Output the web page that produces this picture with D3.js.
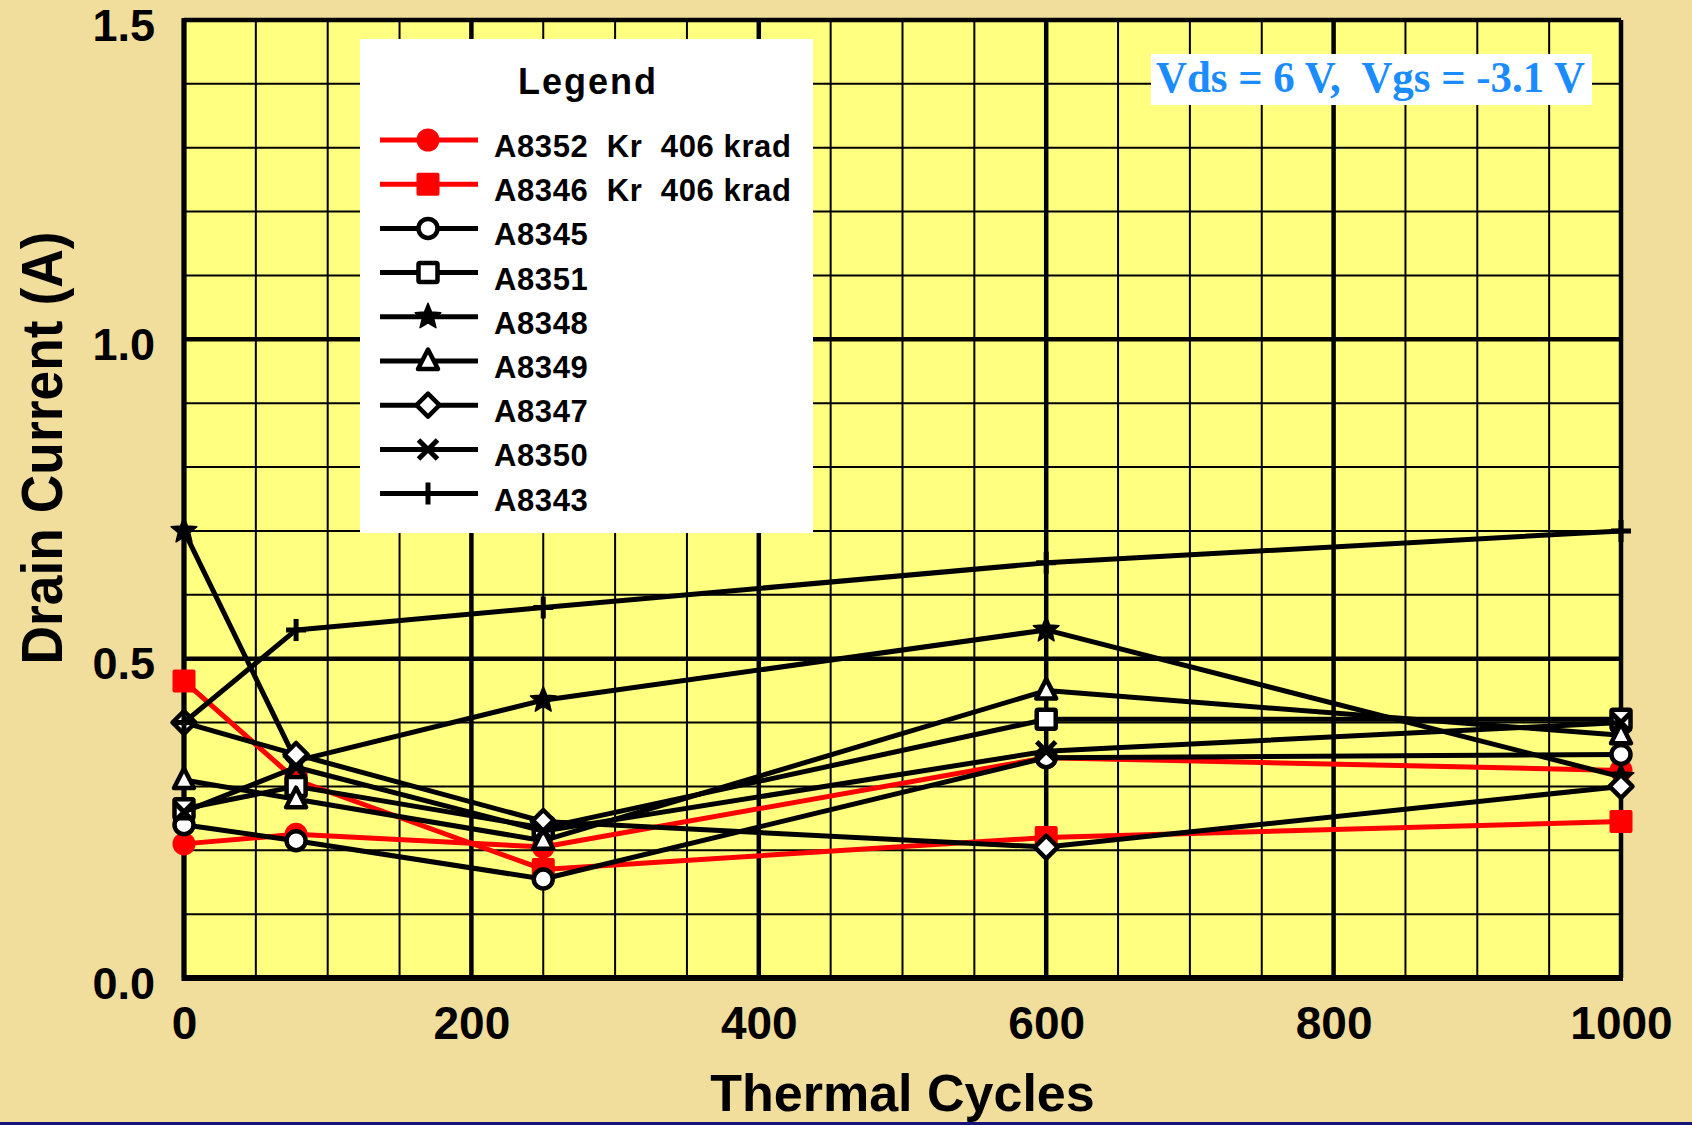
<!DOCTYPE html>
<html>
<head>
<meta charset="utf-8">
<script src="https://cdn.jsdelivr.net/npm/d3@7"></script>
<style>
  html, body { margin: 0; padding: 0; background: #F1DD9C; }
  svg { display: block; }
</style>
</head>
<body>
<svg id="chart" width="1692" height="1125"></svg>
<script>
// Drain current vs. thermal cycles for nine parts
const cycles = [0, 78, 250, 600, 1000];

const seriesNames = ["A8352  Kr  406 krad", "A8346  Kr  406 krad", "A8345", "A8351",
                     "A8348", "A8349", "A8347", "A8350", "A8343"];
const seriesColors = ["#FF0000", "#FF0000", "#000000", "#000000",
                      "#000000", "#000000", "#000000", "#000000", "#000000"];
const seriesMarkers = ["dot", "block", "circle", "square", "star", "triangle", "diamond", "cross", "plus"];

const a8352 = [0.21, 0.225, 0.205, 0.345, 0.325];
const a8346 = [0.465, 0.31, 0.17, 0.22, 0.245];
const a8345 = [0.24, 0.215, 0.155, 0.345, 0.35];
const a8351 = [0.265, 0.30, 0.235, 0.405, 0.405];
const a8348 = [0.70, 0.34, 0.435, 0.545, 0.315];
const a8349 = [0.31, 0.28, 0.215, 0.45, 0.38];
const a8347 = [0.40, 0.35, 0.245, 0.205, 0.30];
const a8350 = [0.26, 0.33, 0.23, 0.355, 0.40];
const a8343 = [0.40, 0.545, 0.58, 0.65, 0.70];
const seriesValues = [a8352, a8346, a8345, a8351, a8348, a8349, a8347, a8350, a8343];

const xTicks = [0, 200, 400, 600, 800, 1000];
const xTickLabels = ["0", "200", "400", "600", "800", "1000"];
const yTicks = [0.0, 0.5, 1.0, 1.5];
const yTickLabels = ["0.0", "0.5", "1.0", "1.5"];

const xTitle = "Thermal Cycles";
const yTitle = "Drain Current (A)";
const legendTitle = "Legend";
const biasNote = "Vds = 6 V,  Vgs = -3.1 V";

// ---- layout ----
const W = 1692, H = 1125;
const plot = { left: 184, top: 20, right: 1621, bottom: 978 };
const SANS = "'Liberation Sans', Arial, Helvetica, sans-serif";
const SERIF = "'Liberation Serif', 'Times New Roman', serif";

const svg = d3.select("#chart");

const x = d3.scaleLinear().domain([0, 1000]).range([plot.left, plot.right]);
const y = d3.scaleLinear().domain([0, 1.5]).range([plot.bottom, plot.top]);

// page background and bottom rule
svg.append("rect").attr("width", W).attr("height", H).attr("fill", "#F1DD9C");

// plot area
svg.append("rect")
  .attr("x", plot.left).attr("y", plot.top)
  .attr("width", plot.right - plot.left).attr("height", plot.bottom - plot.top)
  .attr("fill", "#FFFF80");

// grid
const grid = svg.append("g");
const xMinor = d3.range(0, 1001, 50);
const yMinor = d3.range(0, 16).map(i => i / 10);
grid.selectAll("line.vx").data(xMinor).join("line")
  .attr("x1", d => x(d)).attr("x2", d => x(d))
  .attr("y1", plot.top).attr("y2", plot.bottom)
  .attr("stroke", "#000")
  .attr("stroke-width", d => d % 200 === 0 ? 4.5 : 2);
grid.selectAll("line.hy").data(yMinor).join("line")
  .attr("x1", plot.left).attr("x2", plot.right)
  .attr("y1", d => y(d)).attr("y2", d => y(d))
  .attr("stroke", "#000")
  .attr("stroke-width", d => Math.round(d * 10) % 5 === 0 ? 4.5 : 2);

// axis frame lines
svg.append("line").attr("x1", plot.left).attr("x2", plot.left)
  .attr("y1", plot.top - 2).attr("y2", plot.bottom + 3)
  .attr("stroke", "#000").attr("stroke-width", 5);
svg.append("line").attr("x1", plot.left - 2).attr("x2", plot.right + 2)
  .attr("y1", plot.bottom).attr("y2", plot.bottom)
  .attr("stroke", "#000").attr("stroke-width", 6);

// axes labels
const xAxis = svg.append("g")
  .attr("transform", `translate(0,${plot.bottom})`)
  .call(d3.axisBottom(x).tickValues(xTicks).tickSize(0).tickPadding(28)
        .tickFormat((d, i) => xTickLabels[i]));
xAxis.select(".domain").remove();
xAxis.selectAll("text")
  .attr("font-family", SANS).attr("font-weight", "bold")
  .attr("font-size", 46).attr("fill", "#000");

const yAxis = svg.append("g")
  .attr("transform", `translate(${plot.left},0)`)
  .call(d3.axisLeft(y).tickValues(yTicks).tickSize(0).tickPadding(29)
        .tickFormat((d, i) => yTickLabels[i]));
yAxis.select(".domain").remove();
yAxis.selectAll("text")
  .attr("font-family", SANS).attr("font-weight", "bold")
  .attr("font-size", 45).attr("fill", "#000").attr("dy", "0.45em");

svg.append("text")
  .attr("x", (plot.left + plot.right) / 2).attr("y", 1111)
  .attr("text-anchor", "middle")
  .attr("font-family", SANS).attr("font-weight", "bold").attr("font-size", 52)
  .text(xTitle);

svg.append("rect").attr("x", 0).attr("y", H - 3).attr("width", W).attr("height", 3).attr("fill", "#14147a");

svg.append("text")
  .attr("transform", "translate(62,448) rotate(-90)")
  .attr("text-anchor", "middle")
  .attr("font-family", SANS).attr("font-weight", "bold").attr("font-size", 58)
  .attr("textLength", 433).attr("lengthAdjust", "spacingAndGlyphs")
  .text(yTitle);

// ---- markers ----
function starPath(ro, ri) {
  const pts = [];
  for (let i = 0; i < 10; i++) {
    const r = i % 2 === 0 ? ro : ri;
    const a = -Math.PI / 2 + i * Math.PI / 5;
    pts.push([r * Math.cos(a), r * Math.sin(a)]);
  }
  return "M" + pts.map(p => p.join(",")).join("L") + "Z";
}

function drawMarker(g, type, color) {
  switch (type) {
    case "dot":
      g.append("circle").attr("r", 11.5).attr("fill", color);
      break;
    case "block":
      g.append("rect").attr("x", -11.5).attr("y", -11.5).attr("width", 23).attr("height", 23)
        .attr("rx", 2).attr("fill", color);
      break;
    case "circle":
      g.append("circle").attr("r", 9.5).attr("fill", "#fff").attr("stroke", "#000").attr("stroke-width", 4.5);
      break;
    case "square":
      g.append("rect").attr("x", -9.5).attr("y", -9.5).attr("width", 19).attr("height", 19)
        .attr("rx", 1.5).attr("fill", "#fff").attr("stroke", "#000").attr("stroke-width", 4.5);
      break;
    case "star":
      g.append("path").attr("d", starPath(13.5, 6)).attr("fill", "#000")
        .attr("stroke", "#000").attr("stroke-width", 1.5).attr("stroke-linejoin", "round");
      break;
    case "triangle":
      g.append("path").attr("d", "M0,-11.5L10,8L-10,8Z").attr("fill", "#fff")
        .attr("stroke", "#000").attr("stroke-width", 4.5).attr("stroke-linejoin", "round");
      break;
    case "diamond":
      g.append("path").attr("d", "M0,-11.5L11.5,0L0,11.5L-11.5,0Z").attr("fill", "#fff")
        .attr("stroke", "#000").attr("stroke-width", 4.5).attr("stroke-linejoin", "round");
      break;
    case "cross":
      g.append("path").attr("d", "M-9.5,-9.5L9.5,9.5M-9.5,9.5L9.5,-9.5").attr("fill", "none")
        .attr("stroke", "#000").attr("stroke-width", 5);
      break;
    case "plus":
      g.append("path").attr("d", "M0,-11L0,11M-10,0L10,0").attr("fill", "none")
        .attr("stroke", "#000").attr("stroke-width", 5);
      break;
  }
}

// ---- series ----
const line = d3.line().x(d => x(d.c)).y(d => y(d.v));
const seriesG = svg.append("g");
seriesValues.forEach((vals, si) => {
  const pts = vals.map((v, i) => ({ c: cycles[i], v }));
  const g = seriesG.append("g");
  g.append("path").datum(pts).attr("d", line)
    .attr("fill", "none").attr("stroke", seriesColors[si])
    .attr("stroke-width", 5).attr("stroke-linejoin", "round");
  g.selectAll("g.m").data(pts).join("g")
    .attr("transform", d => `translate(${x(d.c)},${y(d.v)})`)
    .each(function () { drawMarker(d3.select(this), seriesMarkers[si], seriesColors[si]); });
});

// ---- legend ----
const lg = svg.append("g");
lg.append("rect").attr("x", 360).attr("y", 39).attr("width", 453).attr("height", 494).attr("fill", "#fff");
lg.append("text").attr("x", 518).attr("y", 94)
  .attr("font-family", SANS).attr("font-weight", "bold").attr("font-size", 36)
  .attr("letter-spacing", 2).text(legendTitle);
seriesNames.forEach((name, i) => {
  const cy = 140 + i * 44.2;
  lg.append("line").attr("x1", 380).attr("x2", 478).attr("y1", cy).attr("y2", cy)
    .attr("stroke", seriesColors[i]).attr("stroke-width", 5);
  drawMarker(lg.append("g").attr("transform", `translate(428,${cy})`), seriesMarkers[i], seriesColors[i]);
  lg.append("text").attr("x", 494).attr("y", cy + 17)
    .attr("font-family", SANS).attr("font-weight", "bold").attr("font-size", 31)
    .attr("letter-spacing", 0.6).style("white-space", "pre")
    .text(name);
});

// ---- bias annotation ----
svg.append("rect").attr("x", 1151).attr("y", 54).attr("width", 441).attr("height", 51).attr("fill", "#fff");
svg.append("text").attr("x", 1156).attr("y", 92)
  .attr("font-family", SERIF).attr("font-weight", "bold").attr("font-size", 44)
  .attr("fill", "#1a8cff")
  .attr("textLength", 429).attr("lengthAdjust", "spacingAndGlyphs")
  .style("white-space", "pre")
  .text(biasNote);
</script>
</body>
</html>
